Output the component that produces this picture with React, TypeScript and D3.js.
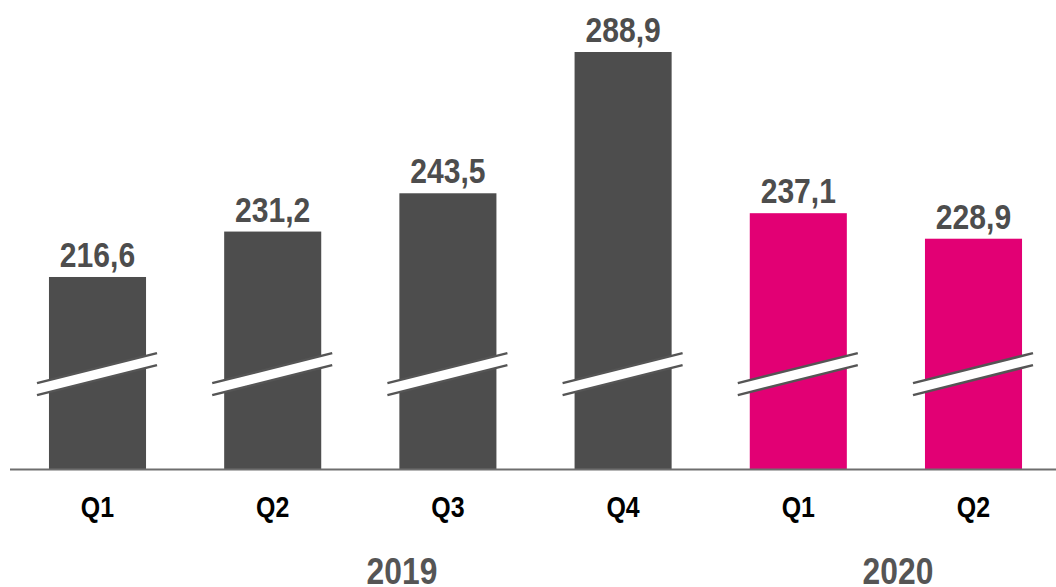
import React from "react";
import * as d3 from "d3";

const quarters = ["Q1", "Q2", "Q3", "Q4", "Q1", "Q2"];
const years = ["2019", "2019", "2019", "2019", "2020", "2020"];
const values = [216.6, 231.2, 243.5, 288.9, 237.1, 228.9];
const yearLabels = ["2019", "2020"];
const yearLabelX = [402, 898];
const axisBase = 154.9;
const GRAY = "#4d4d4d";
const MAGENTA = "#e20074";

const W = 1056;
const H = 587;
const FONT = "'Liberation Sans', Arial, sans-serif";
const SX = 0.86;

export default function App() {
  const ids = values.map((_, i) => String(i));
  const x = d3.scaleBand<string>().domain(ids).range([9.9, 1061.1]).paddingInner(0.446).paddingOuter(0.223);
  const y = d3.scaleLinear().domain([axisBase, 288.9]).range([469, 52]);
  const baseY = y(axisBase);
  const bw = x.bandwidth();
  const breakY = 368; // center of upper break line
  const gap = 12;
  const slope = -30 / 120;
  return (
    <svg width={W} height={H} style={{ position: "absolute", left: 0, top: 0 }}>
      {values.map((v, i) => {
        const x0 = x(String(i))!;
        const cx = x0 + bw / 2;
        const fill = years[i] === "2020" ? MAGENTA : GRAY;
        const lx = cx - 60.5, rx = cx + 59.5;
        const ly = breakY + (lx - cx) * slope;
        const ry = breakY + (rx - cx) * slope;
        return (
          <g key={i}>
            <rect x={x0} y={y(v)} width={bw} height={baseY - y(v)} fill={fill} />
            <polygon points={`${lx},${ly} ${rx},${ry} ${rx},${ry + gap} ${lx},${ly + gap}`} fill="#fff" />
            <line x1={lx} y1={ly} x2={rx} y2={ry} stroke="#555" strokeWidth={2.5} />
            <line x1={lx} y1={ly + gap} x2={rx} y2={ry + gap} stroke="#555" strokeWidth={2.5} />
            <text transform={`translate(${cx},${y(v) - 10}) scale(${SX},1)`} textAnchor="middle" fontFamily={FONT} fontWeight="bold" fontSize={35} fill={GRAY}>
              {v.toFixed(1).replace(".", ",")}
            </text>
            <text transform={`translate(${cx},${517}) scale(${SX},1)`} textAnchor="middle" fontFamily={FONT} fontWeight="bold" fontSize={29} fill="#000">
              {quarters[i]}
            </text>
          </g>
        );
      })}
      <line x1={10} x2={W} y1={baseY + 0.5} y2={baseY + 0.5} stroke="#6e6e6e" strokeWidth={2} />
      {yearLabels.map((t, i) => (
        <text key={t} transform={`translate(${yearLabelX[i]},${584}) scale(${SX},1)`} textAnchor="middle" fontFamily={FONT} fontWeight="bold" fontSize={37} fill="#555">
          {t}
        </text>
      ))}
    </svg>
  );
}
